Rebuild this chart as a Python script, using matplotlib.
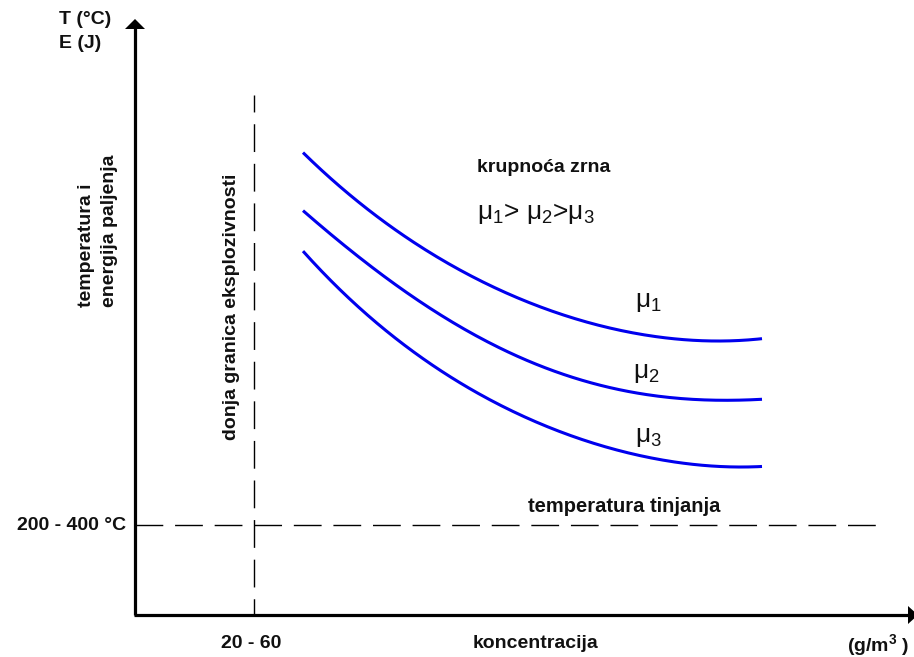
import matplotlib
matplotlib.use("Agg")
import matplotlib.pyplot as plt
import numpy as np

plt.rcParams['font.family'] = ['Liberation Sans', 'DejaVu Sans']
plt.rcParams['mathtext.fontset'] = 'custom'
plt.rcParams['mathtext.rm'] = 'Liberation Sans'
plt.rcParams['mathtext.it'] = 'Liberation Sans:italic'
plt.rcParams['mathtext.bf'] = 'Liberation Sans:bold'

# schematic in pixel-like units (x to the right, y downwards)
origin = (135, 615)
y_top = 19
x_end = 914

# reference lines
T_tinjanja = 525       # 200 - 400 °C
C_donja = 254          # 20 - 60 g/m3

# curves
x_mu1 = [303, 323, 357, 390, 423, 457, 490, 520, 553, 587, 620, 653, 677, 703, 737, 762]
y_mu1 = [153, 172, 198, 227, 250, 268, 287, 297, 310, 322, 332, 337, 338, 341, 340, 339]
x_mu2 = [303, 357, 390, 423, 457, 490, 520, 553, 587, 620, 653, 677, 703, 740, 762]
y_mu2 = [211, 255, 280, 303, 327, 345, 355, 370, 382, 390, 395, 398, 401, 400, 399]
x_mu3 = [303, 323, 357, 390, 423, 457, 490, 520, 553, 587, 620, 653, 680, 700, 762]
y_mu3 = [252, 273, 303, 333, 360, 383, 402, 413, 427, 440, 452, 458, 463, 466, 466]

def smooth(xs, ys):
    xs = np.asarray(xs, float)
    ys = np.asarray(ys, float)
    c = np.polyfit(xs, ys, 4)
    xx = np.linspace(xs[0], xs[-1], 200)
    return xx, np.polyval(c, xx)

fig = plt.figure(figsize=(9.14, 6.57), dpi=100)
ax = fig.add_axes([0, 0, 1, 1])
ax.set_xlim(0, 914)
ax.set_ylim(657, 0)
ax.axis('off')

# axes with arrows
ax.plot([origin[0], origin[0]], [origin[1], y_top + 8], color='k', lw=2.3, solid_capstyle='butt')
ax.plot([origin[0] - 1, x_end], [origin[1], origin[1]], color='k', lw=2.3, solid_capstyle='butt')
ax.fill([origin[0] - 10, origin[0] + 10, origin[0]], [y_top + 10, y_top + 10, y_top], color='k', lw=0)
ax.fill([x_end - 6, x_end - 6, x_end + 4], [origin[1] - 9, origin[1] + 9, origin[1]], color='k', lw=0)

# dashed lines
ax.plot([origin[0], 885], [T_tinjanja, T_tinjanja], color='k', lw=1.0, linestyle=(0, (20, 8.5)))
ax.plot([C_donja, C_donja], [95, origin[1]], color='k', lw=1.0, linestyle=(7.8, (20, 8.5)))

# curves
for xs, ys in [(x_mu1, y_mu1), (x_mu2, y_mu2), (x_mu3, y_mu3)]:
    xx, yy = smooth(xs, ys)
    ax.plot(xx, yy, color='#0000ee', lw=2.2, solid_capstyle='butt')

bold = dict(fontweight='bold', fontsize=14, color='#111111')
ax.text(59, 20, 'T (°C)', ha='left', va='center', **bold)
ax.text(59, 43, 'E (J)', ha='left', va='center', **bold)
ax.text(98, 231, 'temperatura i\nenergija paljenja', rotation=90, ha='center', va='center',
        linespacing=1.45, multialignment='left', **bold)
ax.text(232, 307, 'donja granica eksplozivnosti', rotation=90, ha='center', va='center', **bold)
ax.text(126, 525, '200 - 400 °C', ha='right', va='center', **bold)
ax.text(251, 643, '20 - 60', ha='center', va='center', **bold)
ax.text(535, 643, 'koncentracija', ha='center', va='center', **bold)
ax.text(847, 645, '(g/m$^\\mathbf{3}$ )', ha='left', va='center', **bold)
ax.text(528, 507, 'temperatura tinjanja', ha='left', va='center', fontweight='bold',
        fontsize=14.5, color='#111111')
ax.text(477, 168, 'krupnoća zrna', ha='left', va='center', **bold)

mu = dict(ha='left', va='center', fontsize=19, color='#111111')
ax.text(477, 213, 'μ$_1$> μ$_2$>μ$_3$', **mu)
ax.text(635, 302, 'μ$_1$', **mu)
ax.text(633, 373, 'μ$_2$', **mu)
ax.text(635, 437, 'μ$_3$', **mu)

fig.savefig('out.png', dpi=100)
